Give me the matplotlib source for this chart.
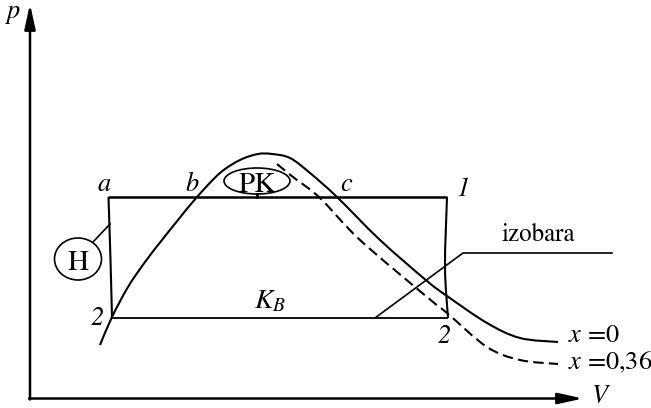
import numpy as np
import matplotlib
matplotlib.use('Agg')
from matplotlib import pyplot as plt
from matplotlib.path import Path
from matplotlib.patches import PathPatch, Ellipse

# Punkte der Kurven (Pixelkoordinaten des Bildes, y nach unten)
x0_x = [100, 112, 128, 145, 162, 178, 197, 220, 240, 258, 272, 290, 310, 337, 380, 427, 447, 487, 520, 558]
x0_y = [345, 317, 287, 262, 240, 220, 197, 173, 160, 154, 154, 158, 173, 197, 240, 281, 296, 323, 338, 342]

x036_x = [277, 293, 320, 360, 427, 447, 487, 520, 558]
x036_y = [164, 177, 198, 240, 297, 313, 347, 360, 364]

left_x = [108.5, 110.5, 112]
left_y = [197, 260, 318]
right_x = [447, 445, 448]
right_y = [197, 267, 318]

izobara_x = [375, 463, 612]
izobara_y = [318, 253, 253]

top_line = ([108, 447], [197, 197])
bottom_line = ([112, 448], [318, 318])

labels = [
    ('a', 104, 191), ('b', 192, 191), ('c', 346, 191),
    ('1', 463, 196), ('2', 97, 325), ('2', 444, 343),
]

plt.rcParams['font.family'] = ['STIXGeneral', 'DejaVu Serif']
plt.rcParams['mathtext.fontset'] = 'stix'


def smooth_path(xs, ys):
    # Catmull-Rom durch die Punkte, als Bezier-Pfad
    pts = np.column_stack([xs, ys]).astype(float)
    n = len(pts)
    verts = [pts[0]]
    codes = [Path.MOVETO]
    for i in range(n - 1):
        p0 = pts[i - 1] if i > 0 else pts[i]
        p1 = pts[i]
        p2 = pts[i + 1]
        p3 = pts[i + 2] if i + 2 < n else pts[i + 1]
        verts += [p1 + (p2 - p0) / 6, p2 - (p3 - p1) / 6, p2]
        codes += [Path.CURVE4] * 3
    return Path(verts, codes)


fig = plt.figure(figsize=(6.51, 4.08), dpi=100)
ax = fig.add_axes([0, 0, 1, 1])
ax.set_xlim(0, 651)
ax.set_ylim(408, 0)
ax.axis('off')

lw = 1.5
fs = 19

# Achsen
arrow = dict(arrowstyle='-|>,head_length=1.0,head_width=0.22', lw=1.8, color='k',
             shrinkA=0, shrinkB=0, mutation_scale=15)
ax.annotate('', xy=(30, 4), xytext=(30, 399.5), arrowprops=arrow)
ax.annotate('', xy=(583, 398.5), xytext=(29, 398.5), arrowprops=arrow)
ax.text(14, 18, 'p', fontsize=fs, style='italic', ha='center', va='baseline')
ax.text(600, 403, 'V', fontsize=fs, style='italic', ha='center', va='baseline')

# Kurven
ax.add_patch(PathPatch(smooth_path(x0_x, x0_y), fill=False, lw=lw, color='k'))
ax.add_patch(PathPatch(smooth_path(x036_x, x036_y), fill=False, lw=lw, color='k',
                       linestyle=(0, (5, 2.5))))
ax.add_patch(PathPatch(smooth_path(left_x, left_y), fill=False, lw=lw, color='k'))
ax.add_patch(PathPatch(smooth_path(right_x, right_y), fill=False, lw=lw, color='k'))
ax.plot(*top_line, color='k', lw=1.8, solid_capstyle='butt')
ax.plot(*bottom_line, color='k', lw=1.3, solid_capstyle='butt')
ax.plot(izobara_x, izobara_y, color='k', lw=1.2)

# Beschriftungen
for txt, x, y in labels:
    ax.text(x, y, txt, fontsize=fs, style='italic', ha='center', va='baseline')
ax.text(270, 308, '$K_B$', fontsize=20, ha='center', va='baseline')
ax.text(502, 241, 'izobara', fontsize=18, ha='left', va='baseline')
ax.text(568, 342, '$x$ =0', fontsize=fs, ha='left', va='baseline')
ax.text(568, 369, '$x$ =0,36', fontsize=fs, ha='left', va='baseline')

# Kreise H und PK
ax.add_patch(Ellipse((78, 259), 47, 42, fill=False, lw=1.2, color='k'))
ax.text(78, 260, 'H', fontsize=21, ha='center', va='center_baseline')
ax.plot([93, 110], [242, 224], color='k', lw=1.2)
ax.add_patch(Ellipse((257, 181), 66, 26, fill=False, lw=1.2, color='k'))
ax.text(257, 182, 'PK', fontsize=21, ha='center', va='center_baseline')
ax.plot([257, 257], [194, 197], color='k', lw=2)

fig.savefig('out.png', dpi=100)
